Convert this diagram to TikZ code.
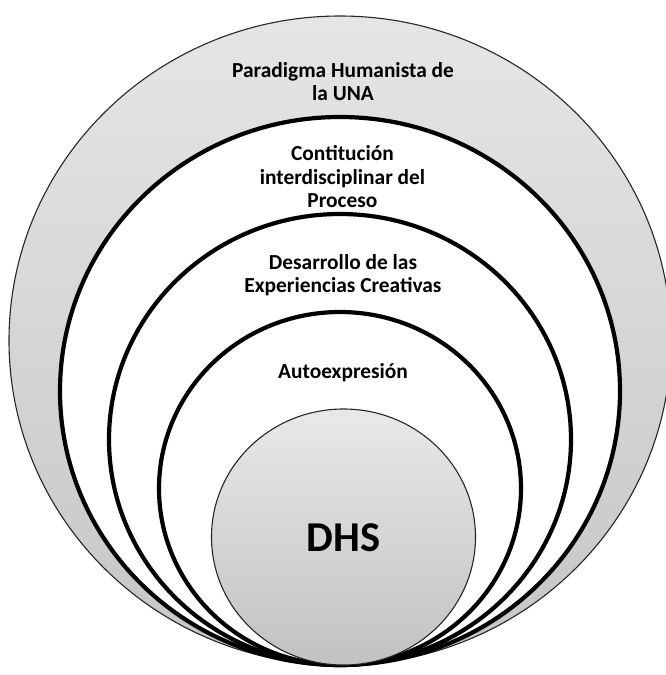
\documentclass[tikz,border=0pt]{standalone}
\usepackage{fontspec}
\setmainfont{Carlito}
\usetikzlibrary{shapes.geometric}
\begin{document}
\begin{tikzpicture}[x=1pt, y=-1pt,
    ring/.style={ellipse, draw=black, line width=4.2pt, fill=white, inner sep=0pt},
    disc/.style={ellipse, draw=black!85, line width=1.1pt, inner sep=0pt},
    caption/.style={align=center, font=\fontsize{21.4}{23.5}\selectfont\bfseries}]
    \useasboundingbox (0,0) rectangle (665,675);

    % anillos, todos tangentes abajo
    \node[disc, top color=gray!20, bottom color=gray!45, minimum width=662pt, minimum height=649pt] (UNA) at (340, 340.5) {};
    \node[ring, minimum width=560pt, minimum height=548pt] (Proceso) at (340, 391) {};
    \node[ring, minimum width=462pt, minimum height=451pt] (Exp) at (340, 439.5) {};
    \node[ring, minimum width=362pt, minimum height=353pt] (Auto) at (340, 488.5) {};
    \node[disc, top color=gray!18, bottom color=gray!48, minimum width=264pt, minimum height=256pt] (DHS) at (343.5, 537) {};

    \node[caption] (UNA_label) at (343, 81.5) {Paradigma Humanista de\\la UNA};
    \node[caption] (Proceso_label) at (342.5, 177) {Contitución\\interdisciplinar del\\Proceso};
    \node[caption] (Exp_label) at (343, 275) {Desarrollo de las\\Experiencias Creativas};
    \node[caption] (Auto_label) at (343, 373) {Autoexpresión};
    \node[font=\fontsize{42.5}{50}\selectfont\bfseries] (DHS_label) at (343.5, 538) {DHS};

\end{tikzpicture}
\end{document}
